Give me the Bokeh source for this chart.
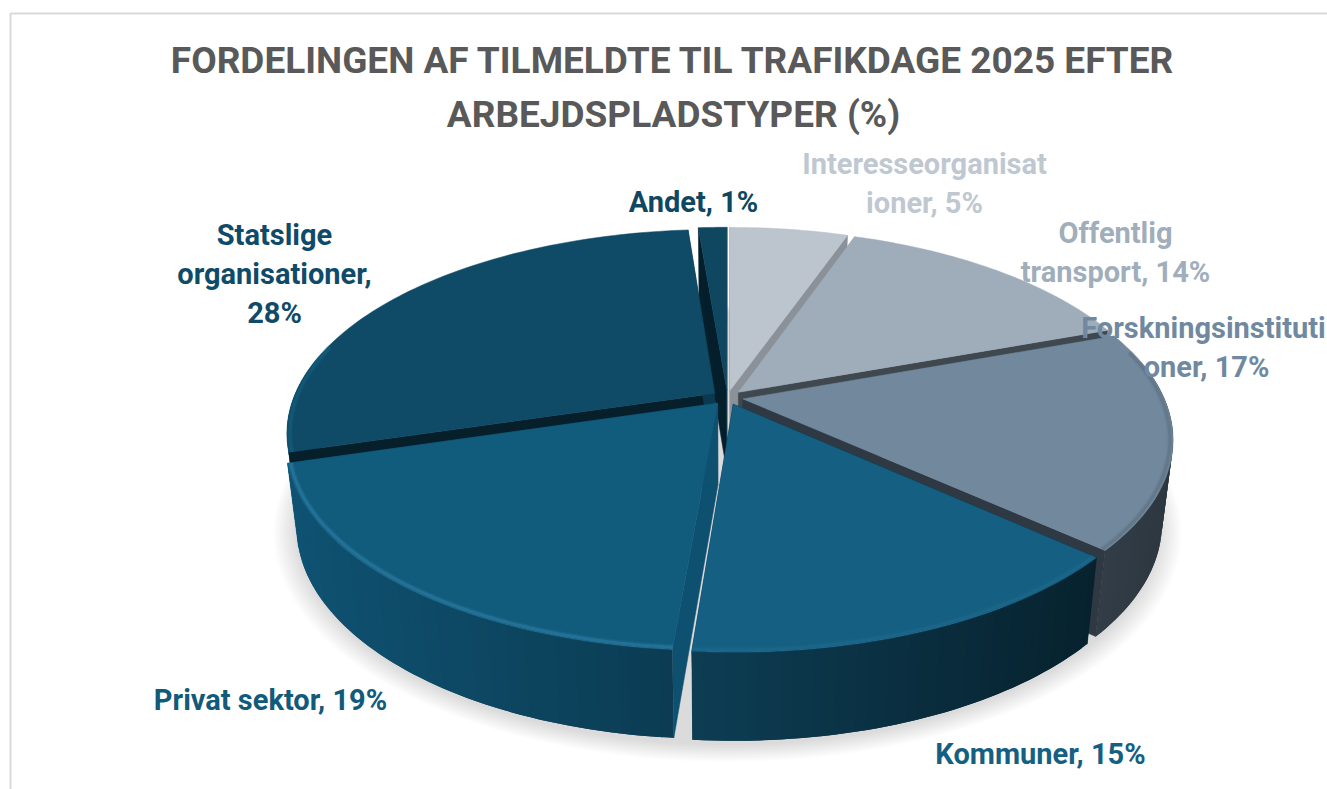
import numpy as np
from bokeh.plotting import figure
from bokeh.models import Range1d
from bokeh.core.properties import value
from bokeh.embed import file_html
from bokeh.resources import INLINE

categories = ["Interesseorganisationer", "Offentlig transport", "Forskningsinstitutioner",
              "Kommuner", "Privat sektor", "Statslige organisationer", "Andet"]
# labelled 5, 14, 17, 15, 19, 28, 1; slice sizes
percent = [5.4, 14.1, 17.15, 14.65, 19.1, 28.3, 1.3]

top_colors = ["#BCC4CD", "#9FADBA", "#72889C", "#156082", "#115B7C", "#0F4A66", "#0F4761"]
label_colors = ["#BFC8D1", "#A0AEBB", "#7189A0", "#156082", "#125A7A", "#0F4B68", "#0F4761"]
wall_left = ["#8A9199", "#6F7A85", "#323D47", "#0D3D54", "#0F5272", "#0F5272", "#0B3A50"]
wall_right = ["#8A9199", "#6F7A85", "#2C3740", "#07222E", "#0B3C53", "#0B3A50", "#0B3A50"]
wall_start = ["#8A9199", "#8A9199", "#3F474F", "#07222E", "#0E5070", "#071F2B", "#051E2B"]
wall_end = ["#8A9199", "#3F474F", "#2E3943", "#07222E", "#0E5070", "#0B3A50", "#0B3A50"]
rim_colors = ["#AEB6BF", "#8F9DAA", "#55677A", "#1F6C8E", "#3A8DB5", "#17678A", "#0F4761"]

title_lines = ["FORDELINGEN AF TILMELDTE TIL TRAFIKDAGE 2025 EFTER", "ARBEJDSPLADSTYPER (%)"]
label_lines = [
    (["Interesseorganisat"], 924, 163, 0),
    (["ioner, 5%"], 924, 202, 0),
    (["Offentlig", "transport, 14%"], 1115, 232, 1),
    (["Forskningsinstituti"], 1203, 327, 2),
    (["oner, 17%"], 1206, 366, 2),
    (["Kommuner, 15%"], 1040, 753, 3),
    (["Privat sektor, 19%"], 270, 699, 4),
    (["Statslige", "organisationer,", "28%"], 274, 234, 5),
    (["Andet, 1%"], 693, 201, 6),
]

CX, CY, RX, RY, K, DEPTH, EXPLODE, SHRINK = 727, 397, 421, 197, 0.193, 82, 0.037, 0.025


def proj(X, Y, h=0.0):
    s = 1 / (1 + K * Y)
    return CX + RX * X * s * (1 - SHRINK * h), CY - RY * Y * s + DEPTH * h * s ** 0.35


def hex2rgb(c):
    return np.array([int(c[i:i + 2], 16) for i in (1, 3, 5)], dtype=float)


def mix(a, b, t):
    r = hex2rgb(a) * (1 - t) + hex2rgb(b) * t
    return "#%02x%02x%02x" % tuple(int(round(v)) for v in r)


p = figure(width=1327, height=789, output_backend="svg", toolbar_location=None,
           x_range=Range1d(0, 1327), y_range=Range1d(789, 0), min_border=0)
p.axis.visible = False
p.grid.visible = False
p.outline_line_color = None
p.background_fill_color = "white"
p.border_fill_color = "white"

# chart frame
p.line([10, 10, 1327], [789, 13, 13], line_color="#D9D9D9", line_width=2)

# soft shadow
theta = np.linspace(0, 2 * np.pi, 240)
for f in np.linspace(1.05, 1.0, 12):
    X = np.sin(theta) * 1.03 * f
    Y = np.cos(theta) * 1.03 * f
    sx, sy = proj(X, Y, 1.0)
    p.patch(sx, sy + 6, fill_color="black", fill_alpha=0.01, line_color=None)

total = sum(percent)
edges = np.concatenate([[0], np.cumsum(percent)]) / total * 2 * np.pi
mids = (edges[:-1] + edges[1:]) / 2
order = sorted(range(len(percent)), key=lambda i: -np.cos(mids[i]))


def draw_cuts(i, a0, a1, dx, dy):
    for ang, col in ((a0, wall_start[i]), (a1, wall_end[i])):
        ox, oy = np.sin(ang) + dx, np.cos(ang) + dy
        qx, qy = [], []
        for (ax, ay, h) in ((dx, dy, 0), (ox, oy, 0), (ox, oy, 1), (dx, dy, 1)):
            u, v = proj(ax, ay, h)
            qx.append(u)
            qy.append(v)
        p.patch(qx, qy, fill_color=col, line_color=col, line_width=0.5)


def draw_outer(i, t, xt, yt, xb, yb):
    # strip by strip for the horizontal shading; each strip overlaps the next
    n = len(t) - 1
    for j in range(n):
        if np.cos((t[j] + t[j + 1]) / 2) > 0.2:
            continue
        e = min(j + 2, n)
        frac = float(np.clip(((xt[j] + xt[j + 1]) / 2 - xt.min()) / max(1, xt.max() - xt.min()), 0, 1))
        c = mix(wall_left[i], wall_right[i], frac)
        p.patch(np.r_[xt[j:e + 1], xb[j:e + 1][::-1]], np.r_[yt[j:e + 1], yb[j:e + 1][::-1]],
                fill_color=c, line_color=None)


for i in order:
    a0, a1 = edges[i], edges[i + 1]
    dx, dy = EXPLODE * np.sin(mids[i]), EXPLODE * np.cos(mids[i])
    t = np.linspace(a0, a1, max(6, int(percent[i] * 3)) + 1)
    X = np.sin(t) + dx
    Y = np.cos(t) + dy
    xt, yt = proj(X, Y, 0)
    xb, yb = proj(X, Y, 1)
    if np.cos(mids[i]) < -0.5:
        draw_cuts(i, a0, a1, dx, dy)
        draw_outer(i, t, xt, yt, xb, yb)
    else:
        draw_outer(i, t, xt, yt, xb, yb)
        draw_cuts(i, a0, a1, dx, dy)
    # top
    cx0, cy0 = proj(dx, dy, 0)
    p.patch(np.r_[cx0, xt], np.r_[cy0, yt], fill_color=top_colors[i], line_color=top_colors[i], line_width=0.5)
    # bevel along the front-facing rim only
    fine = np.linspace(a0, a1, 80)
    fine = fine[np.cos(fine) < 0.25]
    if len(fine) > 1:
        xr, yr = proj(np.sin(fine) * 0.993 + dx, np.cos(fine) * 0.993 + dy, 0)
        p.line(xr, yr, line_color=rim_colors[i], line_width=6, line_alpha=0.18)
        p.line(xr, yr, line_color=rim_colors[i], line_width=3, line_alpha=0.35)

FONT = value("Roboto")
for k, line in enumerate(title_lines):
    p.text([673], [60 + k * 54], text=[line], text_font=FONT, text_font_style="bold",
           text_font_size="37px", text_color="#595959", text_align="center", text_baseline="middle")

for lines, x, y, i in label_lines:
    for k, line in enumerate(lines):
        p.text([x], [y + k * 39], text=[line], text_font=FONT, text_font_style="bold",
               text_font_size="29px", text_color=label_colors[i], text_align="center", text_baseline="middle")

open("out.html", "w").write(file_html(p, INLINE))
